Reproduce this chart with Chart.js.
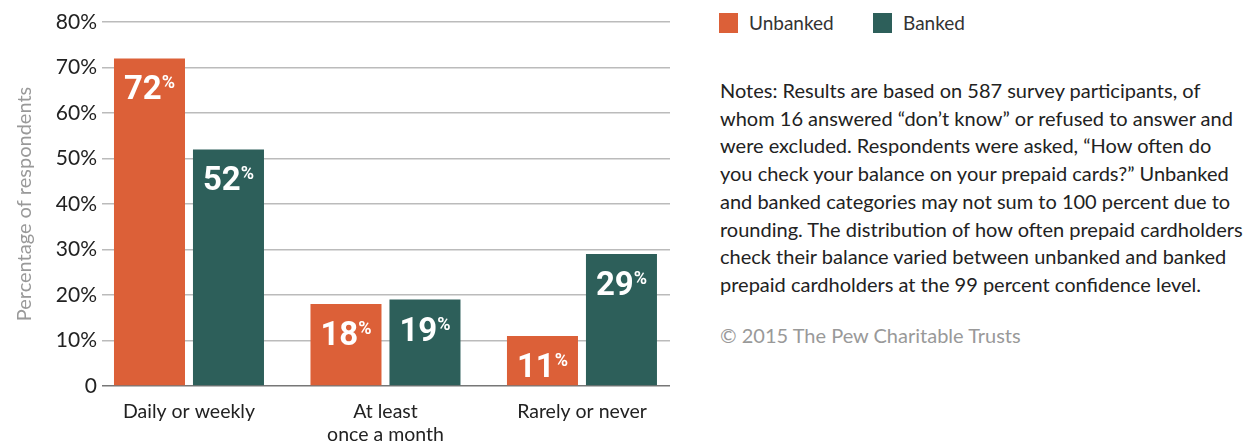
<!DOCTYPE html>
<html>
<head>
<meta charset="utf-8">
<script src="https://cdn.jsdelivr.net/npm/chart.js@4"></script>
<style>
    body { margin: 0; background: #fff; width: 1254px; height: 442px; overflow: hidden; position: relative; font-family: Lato, sans-serif; }
    #chartBox { position: absolute; left: 0; top: 0; width: 690px; height: 442px; }
    .side { position: absolute; left: 719px; top: 0; }
    .legend-item { position: absolute; top: 13px; white-space: nowrap; font-size: 19px; color: #333; line-height: 20px; }
    .legend-item span { display: inline-block; width: 19px; height: 20px; vertical-align: top; margin-right: 11px; }
    .notes { position: absolute; top: 77px; left: 1px; font-size: 20px; line-height: 27.7px; color: #222; white-space: nowrap; }
    .credit { position: absolute; top: 323px; left: 1px; font-size: 20px; color: #999; white-space: nowrap; }
</style>
</head>
<body>
<div id="chartBox"><canvas id="balanceChart" width="690" height="442"></canvas></div>

<div class="side">
    <div class="legend-item" style="left:0"><span style="background:#dc6038"></span>Unbanked</div>
    <div class="legend-item" style="left:154px"><span style="background:#2d5f5a"></span>Banked</div>
    <div class="notes">
        Notes: Results are based on 587 survey participants, of<br>
        whom 16 answered “don’t know” or refused to answer and<br>
        were excluded. Respondents were asked, “How often do<br>
        you check your balance on your prepaid cards?” Unbanked<br>
        and banked categories may not sum to 100 percent due to<br>
        rounding. The distribution of how often prepaid cardholders<br>
        check their balance varied between unbanked and banked<br>
        prepaid cardholders at the 99 percent confidence level.
    </div>
    <div class="credit">© 2015 The Pew Charitable Trusts</div>
</div>

<script>
// ----------------------------------------data------------------------------------------------
const categories = ["Daily or weekly", ["At least", "once a month"], "Rarely or never"];
const unbanked = [72, 18, 11];
const banked = [52, 19, 29];
const yTicks = [0, 10, 20, 30, 40, 50, 60, 70, 80];

const orange = '#dc6038';
const teal = '#2d5f5a';

// bars sit on a linear x axis so the groups can be spaced like the original
function points(values) {
    return values.map((v, i) => ({ x: i, y: v }));
}

// --------value labels inside the bars (big number + small % sign)--------
const barLabels = {
    id: 'barLabels',
    afterDatasetsDraw(chart) {
        let ctx = chart.ctx;
        ctx.save();
        ctx.fillStyle = '#fff';
        ctx.textBaseline = 'alphabetic';
        ctx.textAlign = 'left';
        chart.data.datasets.forEach((ds, d) => {
            chart.getDatasetMeta(d).data.forEach((bar, i) => {
                let num = String(ds.data[i].y);
                ctx.font = 'bold 33px Roboto';
                let w1 = ctx.measureText(num).width;
                ctx.font = 'bold 18px Roboto';
                let w2 = ctx.measureText('%').width;
                let left = bar.x - (w1 + w2) / 2;
                let base = bar.y + 41;
                ctx.font = 'bold 33px Roboto';
                ctx.fillText(num, left, base);
                ctx.font = 'bold 18px Roboto';
                ctx.fillText('%', left + w1, base - 11);
            });
        });
        ctx.restore();
    }
};

new Chart("balanceChart", {
    type: "bar",
    data: {
        datasets: [{
            label: "Unbanked",
            data: points(unbanked),
            backgroundColor: orange,
            categoryPercentage: 0.804,
            barPercentage: 0.899
        }, {
            label: "Banked",
            data: points(banked),
            backgroundColor: teal,
            categoryPercentage: 0.804,
            barPercentage: 0.899
        }]
    },
    options: {
        responsive: false,
        animation: false,
        layout: { padding: { top: 22, right: 20, left: 0, bottom: 0 } },
        plugins: {
            legend: { display: false },
            tooltip: { enabled: false }
        },
        scales: {
            x: {
                type: 'linear',
                min: -0.4427,
                max: 2.448,
                offset: false,
                grid: { display: false, offset: false },
                border: { display: false },
                afterBuildTicks: s => { s.ticks = categories.map((c, i) => ({ value: i })); },
                afterFit: s => { s.height = 56; },
                ticks: {
                    callback: v => categories[v],
                    color: '#222',
                    font: { family: 'Lato', size: 19.5, lineHeight: 1.18 },
                    padding: 6,
                    maxRotation: 0,
                    autoSkip: false
                }
            },
            y: {
                min: 0,
                max: 80,
                afterBuildTicks: s => { s.ticks = yTicks.map(v => ({ value: v })); },
                afterFit: s => { s.width = 102; },
                border: { display: false },
                grid: {
                    drawTicks: false,
                    lineWidth: 1.5,
                    color: c => c.tick.value === 0 ? '#777' : '#bbb'
                },
                ticks: {
                    callback: v => v === 0 ? '0' : v + '%',
                    color: '#222',
                    font: { family: 'Lato', size: 21 },
                    padding: 5
                },
                title: {
                    display: true,
                    text: 'Percentage of respondents',
                    color: '#999',
                    font: { family: 'Lato', size: 20 },
                    padding: { top: 13, bottom: 0 }
                }
            }
        }
    },
    plugins: [barLabels]
});
</script>
</body>
</html>
